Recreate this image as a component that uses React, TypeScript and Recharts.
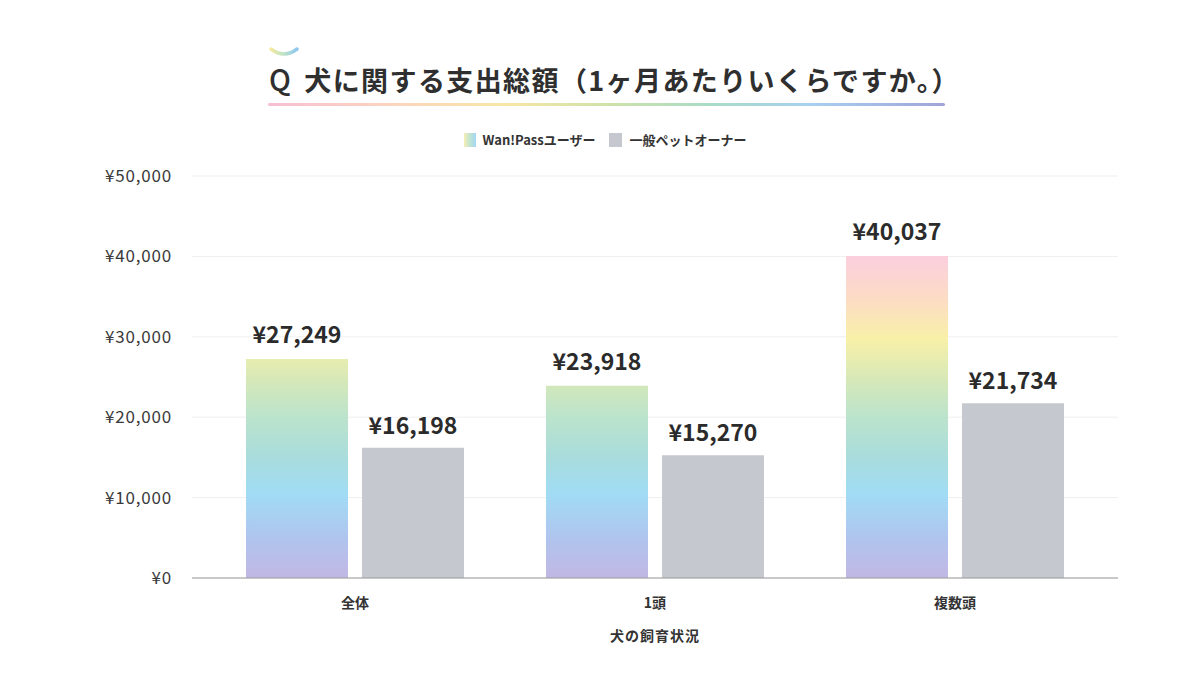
import { Bar, BarChart, CartesianGrid, LabelList, XAxis, YAxis } from 'recharts'

const categories = ['全体', '1頭', '複数頭']
const wanPassValues = [27249, 23918, 40037]
const generalValues = [16198, 15270, 21734]
const yTicks = [0, 10000, 20000, 30000, 40000, 50000]

const seriesNames = { wanPass: 'Wan!Passユーザー', general: '一般ペットオーナー' }
const titleText = '犬に関する支出総額（1ヶ月あたりいくらですか。）'
const xAxisTitle = '犬の飼育状況'

const data = categories.map((name, i) => ({
  name,
  wanPass: wanPassValues[i],
  general: generalValues[i],
}))

const FONT = '"Noto Sans CJK JP", "Noto Sans", sans-serif'
const GRAY = '#c6c8d0'
const yen = (v: number) => `¥${Number(v).toLocaleString('en-US')}`

const labelStyle = { fill: '#2b2b2b', fontSize: 23, fontWeight: 700, fontFamily: FONT }

function Legend() {
  return (
    <div
      style={{
        position: 'absolute',
        top: 130,
        left: 0,
        width: 1210,
        display: 'flex',
        justifyContent: 'center',
        alignItems: 'center',
        fontFamily: FONT,
        fontSize: 13,
        fontWeight: 700,
        color: '#333',
      }}
    >
      <span
        style={{
          width: 12,
          height: 14,
          marginRight: 7,
          background: 'linear-gradient(to right, #f6eeb4, #bfe4d2, #a6d6f4)',
        }}
      />
      <span style={{ marginRight: 14 }}>{seriesNames.wanPass}</span>
      <span style={{ width: 13, height: 14, marginRight: 7, background: GRAY }} />
      <span>{seriesNames.general}</span>
    </div>
  )
}

export default function App() {
  return (
    <div
      style={{
        position: 'absolute',
        left: 0,
        top: 0,
        width: 1200,
        height: 680,
        background: '#fff',
        overflow: 'hidden',
      }}
    >
      {/* title with the little rainbow arc above the Q */}
      <svg style={{ position: 'absolute', left: 268, top: 46 }} width={34} height={14}>
        <defs>
          <linearGradient id="arcGrad" x1="0" y1="0" x2="1" y2="0">
            <stop offset="0%" stopColor="#f6e9a0" />
            <stop offset="45%" stopColor="#bfe3c4" />
            <stop offset="100%" stopColor="#8fc8f0" />
          </linearGradient>
        </defs>
        <path d="M3 3 Q16 13 29 3" stroke="url(#arcGrad)" strokeWidth={3.5} fill="none" strokeLinecap="round" />
      </svg>
      <div
        style={{
          position: 'absolute',
          top: 59,
          left: 269,
          fontFamily: FONT,
          fontSize: 27,
          fontWeight: 700,
          letterSpacing: 1.4,
          color: '#2f2f2f',
          lineHeight: '38px',
          whiteSpace: 'nowrap',
        }}
      >
        <span style={{ fontWeight: 500, fontSize: 29, marginRight: 12 }}>Q</span>
        {titleText}
      </div>
      <div
        style={{
          position: 'absolute',
          top: 103,
          left: 268,
          width: 677,
          height: 3,
          borderRadius: 2,
          background:
            'linear-gradient(to right, #f6bfd2, #fcd6bc 20%, #f8e6a6 35%, #cfe2a8 50%, #a9dcc6 65%, #a8d0f0 80%, #a0a4d8)',
        }}
      />

      <Legend />

      <BarChart
        width={1200}
        height={680}
        data={data}
        margin={{ top: 176, right: 82, bottom: 72, left: 0 }}
        barSize={102}
        barGap={14}
        style={{ position: 'absolute', left: 0, top: 0 }}
      >
        <defs>
          <linearGradient id="rainbow" gradientUnits="userSpaceOnUse" x1="0" y1="578" x2="0" y2="250">
            <stop offset="0.01" stopColor="#c0b8e4" />
            <stop offset="0.12" stopColor="#b0c4ee" />
            <stop offset="0.26" stopColor="#a0dcf4" />
            <stop offset="0.37" stopColor="#a9dcdb" />
            <stop offset="0.5" stopColor="#bde4cb" />
            <stop offset="0.6" stopColor="#d5e8b8" />
            <stop offset="0.73" stopColor="#f8f0a8" />
            <stop offset="0.85" stopColor="#fcdcc4" />
            <stop offset="0.97" stopColor="#fbd0dc" />
          </linearGradient>
        </defs>
        <CartesianGrid vertical={false} stroke="#efefef" />
        <XAxis
          dataKey="name"
          padding={{ left: 13, right: 13 }}
          tickLine={false}
          tickSize={0}
          tickMargin={20}
          stroke="#9a9a9a"
          tick={{ fill: '#333', fontSize: 14, fontWeight: 700, fontFamily: FONT }}
        />
        <YAxis
          width={192}
          domain={[0, 50000]}
          ticks={yTicks}
          tickFormatter={yen}
          axisLine={false}
          tickLine={false}
          tickSize={0}
          tickMargin={20}
          tick={{ fill: '#3a3a3a', fontSize: 17, fontFamily: FONT, letterSpacing: 0.8 }}
        />
        <Bar dataKey="wanPass" name={seriesNames.wanPass} fill="url(#rainbow)" isAnimationActive={false}>
          <LabelList dataKey="wanPass" position="top" offset={16} formatter={(v: any) => yen(v)} style={labelStyle} />
        </Bar>
        <Bar dataKey="general" name={seriesNames.general} fill={GRAY} isAnimationActive={false}>
          <LabelList dataKey="general" position="top" offset={14} formatter={(v: any) => yen(v)} style={labelStyle} />
        </Bar>
      </BarChart>

      <div
        style={{
          position: 'absolute',
          top: 625,
          left: 0,
          width: 1310,
          textAlign: 'center',
          fontFamily: FONT,
          fontSize: 14,
          fontWeight: 700,
          letterSpacing: 1,
          color: '#333',
        }}
      >
        {xAxisTitle}
      </div>
    </div>
  )
}
